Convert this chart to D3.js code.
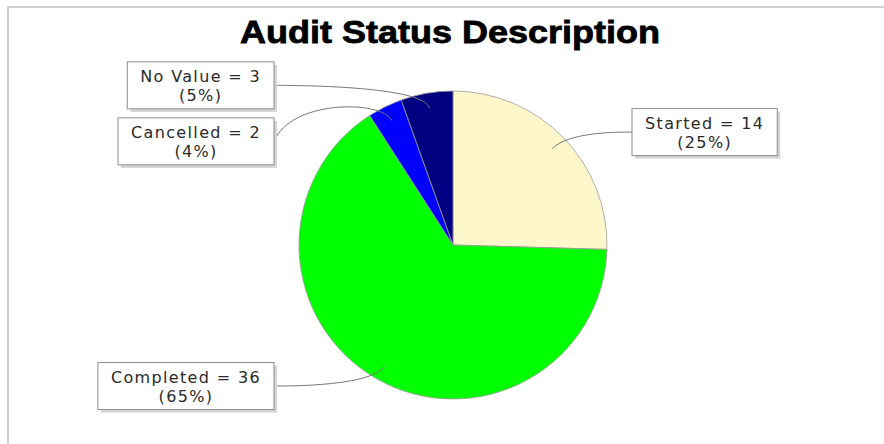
<!DOCTYPE html>
<html>
<head>
<meta charset="utf-8">
<script src="https://cdn.jsdelivr.net/npm/d3@7"></script>
<style>
  body { margin: 0; background: #fff; }
  text { font-family: "DejaVu Sans", Verdana, sans-serif; }
</style>
</head>
<body>
<div id="chart"></div>
<script>
// Audit status pie, drawn like a JFreeChart pie: boxed labels on both sides,
// curved links that hook back into the slice.
var chartTitle = "Audit Status Description";
var categories = ["Started", "Completed", "Cancelled", "No Value"];
var counts = [14, 36, 2, 3];
var percents = ["25%", "65%", "4%", "5%"];
var colors = ["#fff7cc", "#00ff00", "#0000ff", "#000080"];

var width = 884, height = 444,
    cx = 453, cy = 245, radius = 154,
    labelRadius = 162,       // used for the first guess of a label's y
    linkRadius = 162,        // link area (elbow) radius
    labelGap = 179,          // distance from centre to the label box edge
    boxH = 47, boxPad = 13;

var svg = d3.select("#chart").append("svg")
    .attr("width", width)
    .attr("height", height);

// plot border (top + left only visible)
svg.append("path")
    .attr("d", "M8," + height + "V7H" + width)
    .attr("fill", "none")
    .attr("stroke", "#cfcfcf")
    .attr("stroke-width", 2);

svg.append("text")
    .attr("x", 450)
    .attr("y", 43)
    .attr("text-anchor", "middle")
    .style("font-family", "'Liberation Sans Narrow', 'Liberation Sans', sans-serif")
    .style("font-weight", "bold")
    .style("font-size", "32px")
    .attr("stroke", "#000")
    .attr("stroke-width", 0.8)
    .attr("textLength", 420)
    .attr("lengthAdjust", "spacingAndGlyphs")
    .text(chartTitle);

var data = categories.map(function(c, i) {
    return { name: c, value: counts[i], pct: percents[i], color: colors[i] };
});

var pie = d3.pie().sort(null).value(function(d) { return d.value; });
var arcs = pie(data);

var arc = d3.arc().innerRadius(0).outerRadius(radius);

var g = svg.append("g").attr("transform", "translate(" + cx + "," + cy + ")");

g.selectAll(".slice")
    .data(arcs)
    .enter().append("path")
    .attr("class", "slice")
    .attr("d", arc)
    .attr("fill", function(d) { return d.data.color; })
    .attr("stroke", "#9a9a9a")
    .attr("stroke-width", 0.8);

// label layout: initial y from angle, then push apart on each side
arcs.forEach(function(d) {
    d.mid = (d.startAngle + d.endAngle) / 2;
    d.side = Math.sin(d.mid) >= 0 ? 1 : -1;
    d.ly = -Math.cos(d.mid) * labelRadius;
});
[1, -1].forEach(function(side) {
    var list = arcs.filter(function(d) { return d.side === side; })
                   .sort(function(a, b) { return a.ly - b.ly; });
    for (var i = 1; i < list.length; i++) {
        var minY = list[i - 1].ly + boxH + 9;
        if (list[i].ly < minY) list[i].ly = minY;
    }
});

function pt(angle, r) {
    return [Math.sin(angle) * r, -Math.cos(angle) * r];
}

// links: label edge -> link area edge (at elbow height) -> elbow -> link point
g.selectAll(".link")
    .data(arcs)
    .enter().append("path")
    .attr("class", "link")
    .attr("fill", "none")
    .attr("stroke", "#777")
    .attr("stroke-width", 1)
    .attr("d", function(d) {
        var link = pt(d.mid, radius * 0.9),
            elbow = pt(d.mid, linkRadius),
            p = d3.path();
        p.moveTo(d.side * labelGap, d.ly);
        p.bezierCurveTo(d.side * linkRadius, elbow[1], elbow[0], elbow[1], link[0], link[1]);
        return p.toString();
    });

var labels = g.selectAll(".label")
    .data(arcs)
    .enter().append("g")
    .attr("class", "label");

var texts = labels.append("text")
    .attr("text-anchor", "middle")
    .style("font-size", "16px")
    .style("letter-spacing", "1.35px")
    .attr("fill", "#2a2a2a");
texts.append("tspan").attr("x", 0).attr("dy", -3)
    .text(function(d) { return d.data.name + " = " + d.data.value; });
texts.append("tspan").attr("x", 0).attr("dy", 19)
    .text(function(d) { return "(" + d.data.pct + ")"; });

labels.each(function(d) {
    var sel = d3.select(this),
        w = sel.select("text").node().getBBox().width + boxPad * 2,
        x0 = d.side > 0 ? labelGap : -labelGap - w;
    sel.attr("transform", "translate(" + (x0 + w / 2) + "," + d.ly + ")");
    sel.insert("rect", "text")
        .attr("x", -w / 2 + 3).attr("y", -boxH / 2 + 3)
        .attr("width", w).attr("height", boxH)
        .attr("fill", "#d4d4d4");
    sel.insert("rect", "text")
        .attr("x", -w / 2).attr("y", -boxH / 2)
        .attr("width", w).attr("height", boxH)
        .attr("fill", "#fff")
        .attr("stroke", "#8c8c8c")
        .attr("stroke-width", 1);
});
</script>
</body>
</html>
